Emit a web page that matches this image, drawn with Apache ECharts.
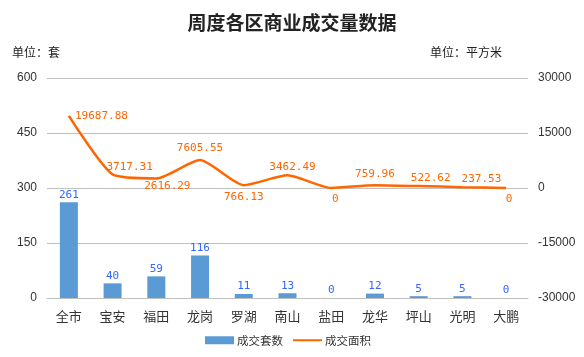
<!DOCTYPE html>
<html><head><meta charset="utf-8">
<script src="https://cdn.jsdelivr.net/npm/echarts@6/dist/echarts.min.js"></script>
<style>html,body{margin:0;padding:0;background:#fff}#c{width:584px;height:357px}</style>
</head><body><div id="c"></div>
<script>
const categories = ['全市','宝安','福田','龙岗','罗湖','南山','盐田','龙华','坪山','光明','大鹏'];
const sets = [261,40,59,116,11,13,0,12,5,5,0];
const area = [19687.88,3717.31,2616.29,7605.55,766.13,3462.49,0,759.96,522.62,237.53,0];
const areaLabelPos = ['right','top','bottom','top','bottom','top','bottom','top','top','top','bottom'];
const areaLabelShift = [[0,0],[17,4],[11,-4],[0,0],[0,0],[5,3],[4,0],[0,0],[12,4],[19,4],[3,0]];
const leftTicks = {min:0,max:600,interval:150};
const rightTicks = {min:-30000,max:30000,interval:15000};

const chart = echarts.init(document.getElementById('c'));
const mono = 'DejaVu Sans Mono';
chart.setOption({
  animation:false,
  title:{text:'周度各区商业成交量数据',left:'center',top:8,textStyle:{fontFamily:'Noto Sans CJK SC',fontWeight:'bold',fontSize:19,color:'#222'}},
  graphic:[
    {type:'text',left:12,top:46,style:{text:'单位：套',font:'12px "Noto Sans CJK SC"',fill:'#222'}},
    {type:'text',right:82,top:46,style:{text:'单位：平方米',font:'12px "Noto Sans CJK SC"',fill:'#222'}}
  ],
  legend:{bottom:6,left:200,itemWidth:29,itemHeight:8,itemGap:9,
    textStyle:{fontFamily:'Noto Sans CJK SC',fontSize:11.5,color:'#333',padding:[0,0,0,-2]},
    data:[{name:'成交套数',icon:'rect'},{name:'成交面积',itemStyle:{opacity:0}}]},
  grid:{left:47,right:56,top:78,bottom:59},
  xAxis:{type:'category',data:categories,
    axisLine:{lineStyle:{color:'#c0c0c0'}},axisTick:{show:false},
    axisLabel:{fontFamily:'Noto Sans CJK SC',fontSize:13,color:'#333',margin:12}},
  yAxis:[
    {type:'value',min:leftTicks.min,max:leftTicks.max,interval:leftTicks.interval,
      axisLine:{show:false},axisTick:{show:false},
      splitLine:{lineStyle:{color:'#c0c0c0'}},
      axisLabel:{fontFamily:'Liberation Sans',fontSize:12,color:'#333',margin:10}},
    {type:'value',min:rightTicks.min,max:rightTicks.max,interval:rightTicks.interval,
      axisLine:{show:false},axisTick:{show:false},splitLine:{show:false},
      axisLabel:{fontFamily:'Liberation Sans',fontSize:12,color:'#333',margin:10,formatter:v=>String(v)}}
  ],
  series:[
    {name:'成交套数',type:'bar',data:sets,barWidth:18,yAxisIndex:0,
      itemStyle:{color:'#5b9bd5'},
      label:{show:true,position:'top',distance:2,fontFamily:mono,fontSize:11,color:'#3366ff'}},
    {name:'成交面积',type:'line',yAxisIndex:1,smooth:0.2,showSymbol:true,symbol:'circle',symbolSize:0.1,
      data:area.map((v,i)=>({value:v,label:{position:areaLabelPos[i],offset:areaLabelShift[i]}})),
      lineStyle:{color:'#ff6600',width:2.5},itemStyle:{color:'#ff6600'},
      label:{show:true,fontFamily:mono,fontSize:11,color:'#ff6600',distance:6}}
  ]
});
</script></body></html>
